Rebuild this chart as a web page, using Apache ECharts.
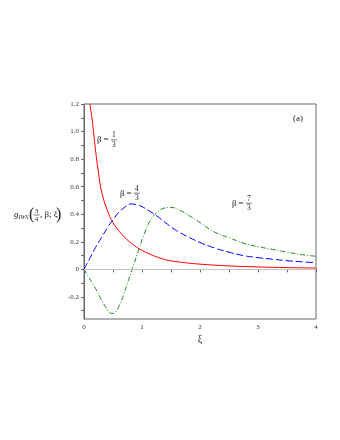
<!DOCTYPE html>
<html>
<head>
<meta charset="utf-8">
<script src="https://cdn.jsdelivr.net/npm/echarts@6/dist/echarts.min.js"></script>
<style>html,body{margin:0;padding:0;background:#fff}#chart{width:340px;height:440px}</style>
</head>
<body>
<div id="chart"></div>
<script>
// values
var xiRed   = [0.10, 0.14, 0.20, 0.25, 0.30, 0.40, 0.50, 0.65, 0.80, 0.95, 1.14, 1.34, 1.50, 1.75, 2.00, 2.50, 3.00, 3.50, 4.00];
var gRed    = [1.20, 1.09, 0.86, 0.70, 0.57, 0.43, 0.34, 0.255, 0.195, 0.15, 0.11, 0.078, 0.062, 0.048, 0.038, 0.025, 0.018, 0.013, 0.010];

var xiBlue  = [0, 0.10, 0.20, 0.30, 0.40, 0.50, 0.60, 0.70, 0.80, 0.90, 1.00, 1.10, 1.25, 1.40, 1.60, 1.80, 2.00, 2.25, 2.50, 2.75, 3.00, 3.25, 3.50, 3.75, 4.00];
var gBlue   = [0, 0.08, 0.16, 0.23, 0.30, 0.36, 0.415, 0.45, 0.475, 0.47, 0.455, 0.43, 0.39, 0.34, 0.28, 0.235, 0.195, 0.155, 0.125, 0.10, 0.085, 0.074, 0.063, 0.055, 0.048];

var xiGreen = [0, 0.10, 0.20, 0.30, 0.36, 0.42, 0.48, 0.54, 0.60, 0.67, 0.75, 0.83, 0.95, 1.05, 1.15, 1.25, 1.35, 1.50, 1.65, 1.85, 2.00, 2.25, 2.50, 2.75, 3.00, 3.25, 3.50, 3.75, 4.00];
var gGreen  = [0, -0.07, -0.14, -0.22, -0.265, -0.305, -0.32, -0.31, -0.27, -0.20, -0.10, 0, 0.15, 0.27, 0.36, 0.41, 0.44, 0.45, 0.43, 0.38, 0.34, 0.27, 0.23, 0.19, 0.165, 0.145, 0.125, 0.107, 0.095];

var xLabels = [0, 1, 2, 3, 4];
var yLabels = [-0.2, 0, 0.2, 0.4, 0.6, 0.8, 1.0, 1.2];
var yTicks  = [-0.3, -0.2, -0.1, 0, 0.1, 0.2, 0.3, 0.4, 0.5, 0.6, 0.7, 0.8, 0.9, 1.0, 1.1, 1.2];

// curve labels: [xi, g, num, den]
var betaLabels = [[0.224, 0.94, '1', '3'], [0.62, 0.553, '4', '3'], [2.55, 0.48, '7', '3']];

var serif = '"Liberation Serif", "DejaVu Serif", serif';

function zip(xs, ys){
	var out = [];
	for(var i=0; i<xs.length; i++){ out.push([xs[i], ys[i]]); }
	return out;
}

var chart = echarts.init(document.getElementById('chart'));

var option = {
	animation: false,
	backgroundColor: '#fff',
	grid: {left: 84, right: 24, top: 104, bottom: 121, show: true, borderColor: '#666', borderWidth: 1},
	xAxis: {
		type: 'value', min: 0, max: 4, interval: 1,
		name: 'ξ', nameLocation: 'middle', nameGap: 15,
		nameTextStyle: {fontFamily: serif, fontSize: 10, color: '#222'},
		axisLine: {lineStyle: {color: '#666'}},
		axisTick: {length: 3, lineStyle: {color: '#666'}},
		minorTick: {show: true, splitNumber: 2, length: 3, lineStyle: {color: '#666'}},
		axisLabel: {fontFamily: serif, fontSize: 7, color: '#333', margin: 5},
		splitLine: {show: false}
	},
	yAxis: {
		type: 'value', min: -0.36, max: 1.2,
		axisLine: {show: true, lineStyle: {color: '#666'}},
		axisTick: {show: true, length: 3, customValues: yTicks, lineStyle: {color: '#666'}},
		axisLabel: {fontFamily: serif, fontSize: 7, color: '#333', margin: 5, customValues: yLabels,
			formatter: function(v){ return v === 0 ? '0' : v.toFixed(1); }},
		splitLine: {show: false}
	},
	series: [
		{
			type: 'line', data: zip(xiRed, gRed), smooth: 0.4, showSymbol: false, clip: true,
			lineStyle: {color: '#ff0000', width: 1},
			markLine: {silent: true, symbol: 'none', label: {show: false},
				lineStyle: {color: '#c4c4c4', type: 'solid', width: 1}, data: [{yAxis: 0}]}
		},
		{
			type: 'line', data: zip(xiBlue, gBlue), smooth: 0.4, showSymbol: false, clip: true,
			lineStyle: {color: '#0000ff', width: 1, type: [7, 3]}
		},
		{
			type: 'line', data: zip(xiGreen, gGreen), smooth: 0.4, showSymbol: false, clip: true,
			lineStyle: {color: '#1f8a1f', width: 1, type: [5, 2, 1, 2]}
		}
	]
};
chart.setOption(option);

// text annotations
var graphics = [];
function fraction(cx, cy, num, den, size){
	graphics.push({type: 'text', x: cx, y: cy - 0.5, style: {text: num, font: size + 'px ' + serif, fill: '#222', align: 'center', verticalAlign: 'bottom'}});
	graphics.push({type: 'line', shape: {x1: cx - 3, y1: cy, x2: cx + 3, y2: cy}, style: {stroke: '#222', lineWidth: 0.6}});
	graphics.push({type: 'text', x: cx, y: cy + 1, style: {text: den, font: size + 'px ' + serif, fill: '#222', align: 'center', verticalAlign: 'top'}});
}
for(var i=0; i<betaLabels.length; i++){
	var b = betaLabels[i];
	var p = chart.convertToPixel({gridIndex: 0}, [b[0], b[1]]);
	graphics.push({type: 'text', x: p[0], y: p[1], style: {text: 'β', font: '9px ' + serif, fill: '#222', verticalAlign: 'middle'}});
	graphics.push({type: 'text', x: p[0] + 6.5, y: p[1], style: {text: '=', font: '9px ' + serif, fill: '#222', verticalAlign: 'middle'}});
	fraction(p[0] + 17, p[1], b[2], b[3], 7.5);
}
var pa = chart.convertToPixel({gridIndex: 0}, [3.69, 1.097]);
graphics.push({type: 'text', x: pa[0], y: pa[1], style: {text: '(a)', font: '9px ' + serif, fill: '#222', align: 'center', verticalAlign: 'middle'}});

// y axis title g_IWS(3/4, β; ξ)
var ly = 215;
graphics.push({type: 'text', x: 14, y: ly, style: {text: 'g', font: 'italic 9px ' + serif, fill: '#222', verticalAlign: 'middle'}});
graphics.push({type: 'text', x: 18.5, y: ly + 2.5, style: {text: 'IWS', font: 'italic 6px ' + serif, fill: '#222', verticalAlign: 'middle'}});
graphics.push({type: 'text', x: 29, y: ly, style: {text: '(', font: '16px ' + serif, fill: '#222', verticalAlign: 'middle'}});
fraction(36.5, ly, '3', '4', 7);
graphics.push({type: 'text', x: 40, y: ly, style: {text: ', β; ξ', font: '9px ' + serif, fill: '#222', verticalAlign: 'middle'}});
graphics.push({type: 'text', x: 56, y: ly, style: {text: ')', font: '16px ' + serif, fill: '#222', verticalAlign: 'middle'}});

chart.setOption({graphic: graphics});
</script>
</body>
</html>
